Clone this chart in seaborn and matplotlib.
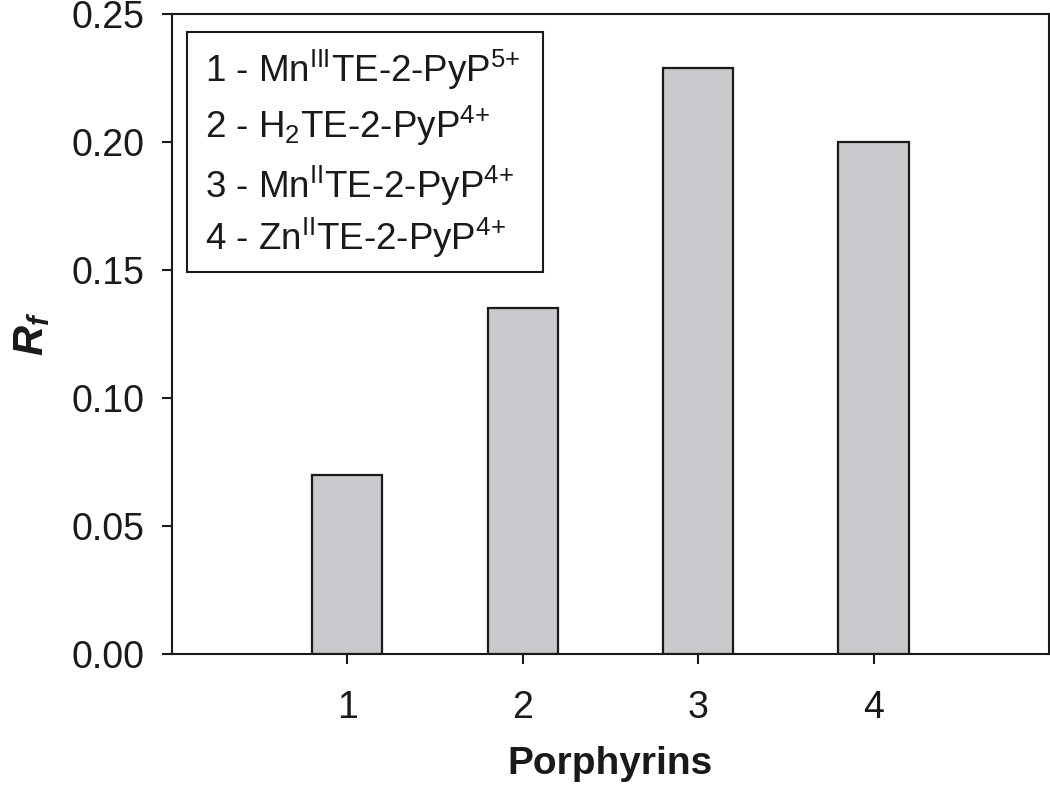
import seaborn as sns
import matplotlib.pyplot as plt
from matplotlib.patches import Rectangle

# data
porphyrins = [1, 2, 3, 4]
rf_values = [0.070, 0.135, 0.229, 0.200]
legend_labels = [
    r'1 - Mn$^{\mathregular{III}}$TE-2-PyP$^{\mathregular{5{+}}}$',
    r'2 - H$_{\mathregular{2}}$TE-2-PyP$^{\mathregular{4{+}}}$',
    r'3 - Mn$^{\mathregular{II}}$TE-2-PyP$^{\mathregular{4{+}}}$',
    r'4 - Zn$^{\mathregular{II}}$TE-2-PyP$^{\mathregular{4{+}}}$',
]

sns.set_theme(style="ticks")
plt.rcParams['font.family'] = ['Liberation Sans', 'DejaVu Sans']
plt.rcParams['mathtext.fontset'] = 'custom'
plt.rcParams['mathtext.rm'] = 'Liberation Sans'
plt.rcParams['mathtext.it'] = 'Liberation Sans:italic'
plt.rcParams['mathtext.bf'] = 'Liberation Sans:bold'

fig = plt.figure(figsize=(10.5, 7.93), dpi=100)
ax = fig.add_axes([0.1638, 0.1753, 0.8352, 0.807])

# bars drawn at their numeric positions
sns.barplot(x=porphyrins, y=rf_values, native_scale=True, width=0.4,
            color='#c8c9cc', edgecolor='#1a1a1a', linewidth=1.6,
            saturation=1, ax=ax)

ax.set_xlim(0, 5)
ax.set_ylim(0, 0.25)
ax.set_xticks(porphyrins)
ax.set_xticklabels([str(p) for p in porphyrins])
ax.set_yticks([0.0, 0.05, 0.10, 0.15, 0.20, 0.25])
ax.set_yticklabels(['0.00', '0.05', '0.10', '0.15', '0.20', '0.25'])

for side in ['left', 'right', 'top', 'bottom']:
    ax.spines[side].set_visible(True)
    ax.spines[side].set_linewidth(1.5)
    ax.spines[side].set_color('#1a1a1a')

ax.tick_params(axis='both', direction='out', length=7, width=1.5,
               colors='#1a1a1a', labelsize=27, labelcolor='#1a1a1a')
ax.tick_params(axis='x', pad=19)
ax.tick_params(axis='y', pad=13)

ax.set_xlabel('Porphyrins', fontsize=28, fontweight='bold', labelpad=14,
              color='#1a1a1a')
ax.set_ylabel(r'$\mathregular{R_f}$', fontsize=30, fontweight='bold',
              fontstyle='italic', labelpad=14, color='#1a1a1a')

# legend box with the compound names
ax.add_patch(Rectangle((0.0171, 0.597), 0.406, 0.375, transform=ax.transAxes,
                       fill=False, edgecolor='#1a1a1a', linewidth=1.5))
baselines = [0.894, 0.806, 0.7125, 0.631]
for label, yb in zip(legend_labels, baselines):
    ax.text(0.0376, yb, label, transform=ax.transAxes, fontsize=26.5,
            va='baseline', ha='left', color='#1a1a1a')

fig.savefig('out.png', dpi=100)
